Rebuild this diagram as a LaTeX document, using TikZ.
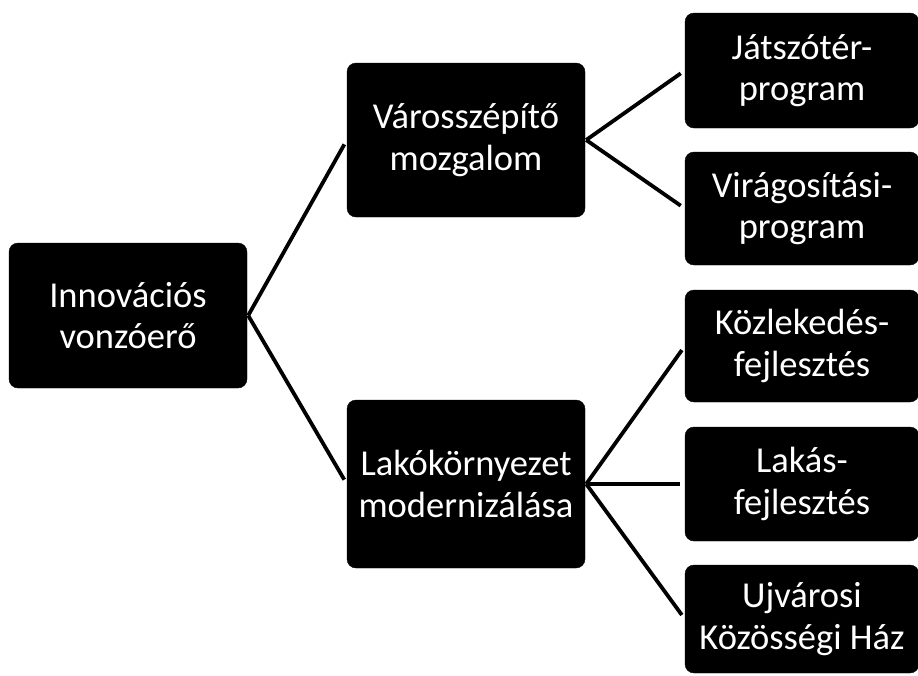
\documentclass[tikz,border=0pt]{standalone}
\usepackage{fontspec}
\setmainfont{Carlito}
\begin{document}
\begin{tikzpicture}[x=1pt,y=-1pt,
  box/.style={fill=black, draw=black, rounded corners=9pt, text=white,
    align=center, inner sep=0pt, font=\fontsize{36.5}{41.5}\selectfont},
  link/.style={line width=3.8pt, black, shorten >=5pt}]
\useasboundingbox (0,0) rectangle (918,675);
\node[box, minimum width=238pt, minimum height=145pt] (root) at (128,315.5) {Innovációs\\vonzóerő};
\node[box, minimum width=238pt, minimum height=154pt] (m1) at (466,140) {Városszépítő\\mozgalom};
\node[box, minimum width=238pt, minimum height=168pt] (m2) at (466,484) {Lakókörnyezet\\modernizálása};
\node[box, minimum width=234pt, minimum height=115pt] (r1) at (802,70.5) {Játszótér-\\program};
\node[box, minimum width=234pt, minimum height=113pt] (r2) at (802,208.5) {Virágosítási-\\program};
\node[box, minimum width=234pt, minimum height=112pt] (r3) at (802,346) {Közlekedés-\\fejlesztés};
\node[box, minimum width=234pt, minimum height=114pt] (r4) at (802,484) {Lakás-\\fejlesztés};
\node[box, minimum width=234pt, minimum height=108pt] (r5) at (802,619) {Ujvárosi\\Közösségi Ház};
\coordinate (f0) at ([xshift=1pt]root.east);
\coordinate (f1) at ([xshift=1pt]m1.east);
\coordinate (f2) at ([xshift=1pt]m2.east);
\draw[link] (f0) -- (m1.west);
\draw[link] (f0) -- (m2.west);
\draw[link] (f1) -- (r1.west);
\draw[link] (f1) -- (r2.west);
\draw[link] (f2) -- (r3.west);
\draw[link] (f2) -- (r4.west);
\draw[link] (f2) -- (r5.west);
\end{tikzpicture}
\end{document}
